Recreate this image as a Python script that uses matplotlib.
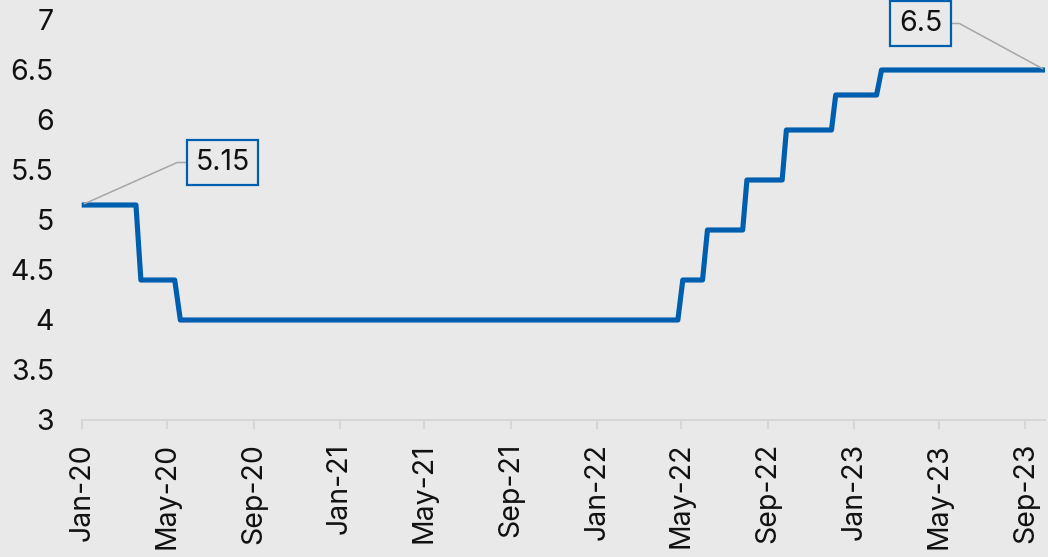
import matplotlib
matplotlib.use("Agg")
import matplotlib.pyplot as plt
import numpy as np
import pandas as pd

# Policy rate path (vertices of the step line)
dates = ["2020-01-01", "2020-03-18", "2020-03-25", "2020-05-12", "2020-05-20",
         "2022-04-26", "2022-05-03", "2022-05-31", "2022-06-07",
         "2022-07-27", "2022-08-02", "2022-09-21", "2022-09-27",
         "2022-11-30", "2022-12-06", "2023-02-02", "2023-02-09", "2023-09-29"]
rates = [5.15, 5.15, 4.40, 4.40, 4.00,
         4.00, 4.40, 4.40, 4.90,
         4.90, 5.40, 5.40, 5.90,
         5.90, 6.25, 6.25, 6.50, 6.50]
yticks = [3, 3.5, 4, 4.5, 5, 5.5, 6, 6.5, 7]
ytick_labels = ["3", "3.5", "4", "4.5", "5", "5.5", "6", "6.5", "7"]
xtick_dates = ["2020-01-01", "2020-05-01", "2020-09-01", "2021-01-01", "2021-05-01",
               "2021-09-01", "2022-01-01", "2022-05-01", "2022-09-01", "2023-01-01",
               "2023-05-01", "2023-09-01"]

BG = "#e9e9e9"
BLUE = "#005eae"
FS = 20.5
plt.rcParams['font.family'] = ['Inter', 'DejaVu Sans']

x = pd.to_datetime(dates)
fig = plt.figure(figsize=(10.48, 5.57), dpi=100, facecolor=BG)
ax = fig.add_axes([81.7 / 1048, 1 - 420 / 557, (1045 - 81.7) / 1048, 400 / 557])
ax.set_facecolor(BG)

ax.plot(x, rates, color=BLUE, lw=3.7, solid_joinstyle='round', solid_capstyle='butt', zorder=3,
        clip_on=False)

ax.set_xlim(pd.Timestamp("2020-01-01"), pd.Timestamp("2023-09-29"))
ax.set_ylim(3, 7)
ax.set_yticks(yticks)
ax.set_yticklabels(ytick_labels)
xt = pd.to_datetime(xtick_dates)
ax.set_xticks(xt)
ax.set_xticklabels([d.strftime("%b-%y") for d in xt], rotation=90, va='top', ha='center')

for s in ["top", "right", "left"]:
    ax.spines[s].set_visible(False)
ax.spines["bottom"].set_color("#d6d6d6")
ax.spines["bottom"].set_linewidth(1.5)
ax.tick_params(axis='y', length=0, pad=20, labelsize=FS, colors="#111111")
ax.tick_params(axis='x', length=6.5, width=1.5, color="#d6d6d6", pad=10, labelsize=FS,
               labelcolor="#111111")

box = dict(boxstyle="square,pad=0.3", fc=BG, ec=BLUE, lw=1.6)
ax.annotate("5.15", xy=(x[0], rates[0]), xytext=(141, 42.5), textcoords='offset pixels',
            ha='center', va='center', fontsize=FS, color="#111111", bbox=box,
            arrowprops=dict(arrowstyle='-', color="#a6a6a6", lw=1.1,
                            connectionstyle="angle,angleA=0,angleB=24",
                            shrinkA=0, shrinkB=2))
ax.annotate("6.5", xy=(x[-1], rates[-1]), xytext=(-124.5, 46.5), textcoords='offset pixels',
            ha='center', va='center', fontsize=FS, color="#111111", bbox=box,
            arrowprops=dict(arrowstyle='-', color="#a6a6a6", lw=1.1,
                            connectionstyle="angle,angleA=0,angleB=-28.5",
                            shrinkA=0, shrinkB=2))

fig.savefig("out.png", dpi=100, facecolor=BG)
